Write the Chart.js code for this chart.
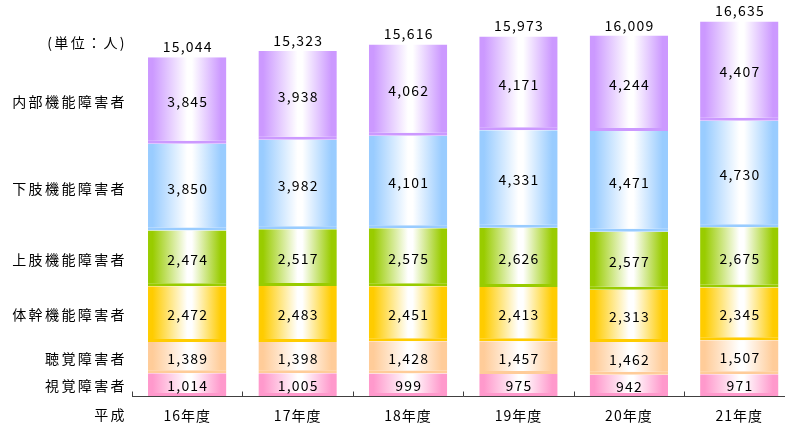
<!DOCTYPE html>
<html>
<head>
<meta charset="utf-8">
<script src="https://cdn.jsdelivr.net/npm/chart.js@4/dist/chart.umd.min.js"></script>
<style>
  html, body { margin: 0; padding: 0; background: #fff; overflow: hidden; }
  #chart { display: block; }
</style>
</head>
<body>
<canvas id="chart" width="796" height="429"></canvas>
<script>
// Fiscal years (Heisei era)
const categories = ['16年度', '17年度', '18年度', '19年度', '20年度', '21年度'];

// Series, bottom to top of each stack
const seriesNames = ['視覚障害者', '聴覚障害者', '体幹機能障害者', '上肢機能障害者', '下肢機能障害者', '内部機能障害者'];
const visual    = [1014, 1005,  999,  975,  942,  971];
const hearing   = [1389, 1398, 1428, 1457, 1462, 1507];
const trunk     = [2472, 2483, 2451, 2413, 2313, 2345];
const upperLimb = [2474, 2517, 2575, 2626, 2577, 2675];
const lowerLimb = [3850, 3982, 4101, 4331, 4471, 4730];
const internal  = [3845, 3938, 4062, 4171, 4244, 4407];

const seriesValues = [visual, hearing, trunk, upperLimb, lowerLimb, internal];
const seriesColors = ['#ff99cc', '#ffcc99', '#ffcc00', '#99cc00', '#99ccff', '#cc99ff'];

const unitLabel = '(単位：人)';
const eraLabel = '平成';

const FONT = '"Noto Sans CJK JP", "Noto Sans", sans-serif';
const BAR_PCT = 0.71;

const fmt = v => v.toLocaleString('en-US');

// Horizontal "cylinder" shading across each bar
function barFill(color) {
  return (ctx) => {
    const chart = ctx.chart;
    const xs = chart.scales.x;
    if (!chart.chartArea || !xs || ctx.type !== 'data') return color;
    const cx = xs.getPixelForValue(ctx.dataIndex);
    const half = (xs.width / categories.length) * BAR_PCT / 2;
    const g = chart.ctx.createLinearGradient(cx - half, 0, cx + half, 0);
    g.addColorStop(0, color);
    g.addColorStop(0.06, color);
    g.addColorStop(0.5, '#ffffff');
    g.addColorStop(0.56, '#ffffff');
    g.addColorStop(0.93, color);
    g.addColorStop(1, color);
    return g;
  };
}

const datasets = seriesNames.map((name, i) => ({
  label: name,
  data: seriesValues[i],
  backgroundColor: barFill(seriesColors[i]),
  borderColor: seriesColors[i],
  borderWidth: { top: 0, left: 0, right: 0, bottom: 3 },
  borderSkipped: false,
  categoryPercentage: 1,
  barPercentage: BAR_PCT
}));

// Slight letter spacing for all canvas text, including the category ticks
const spacing = {
  id: 'spacing',
  beforeDraw(chart) { chart.ctx.letterSpacing = '1px'; }
};

// Value labels, totals, series names and the baseline with inward ticks
const annotate = {
  id: 'annotate',
  afterDatasetsDraw(chart) {
    const ctx = chart.ctx;
    const area = chart.chartArea;
    const xs = chart.scales.x;
    ctx.save();
    ctx.fillStyle = '#000';
    ctx.textAlign = 'center';
    ctx.textBaseline = 'middle';
    ctx.font = '14px ' + FONT;
    ctx.letterSpacing = '1.2px';

    // values inside each segment
    chart.data.datasets.forEach((ds, di) => {
      const meta = chart.getDatasetMeta(di);
      meta.data.forEach((bar, i) => {
        const y = (bar.y + bar.base) / 2;
        ctx.fillText(fmt(ds.data[i]), bar.x + 0.6, y + 1);
      });
    });

    // totals above each stack
    const topMeta = chart.getDatasetMeta(chart.data.datasets.length - 1);
    ctx.textBaseline = 'alphabetic';
    categories.forEach((c, i) => {
      const total = seriesValues.reduce((s, arr) => s + arr[i], 0);
      const bar = topMeta.data[i];
      ctx.fillText(fmt(total), bar.x + 0.6, bar.y - 5);
    });

    // series names beside the first stack
    ctx.textAlign = 'right';
    ctx.textBaseline = 'middle';
    ctx.letterSpacing = '2.4px';
    const firstX = 127;
    chart.data.datasets.forEach((ds, di) => {
      const bar = chart.getDatasetMeta(di).data[0];
      ctx.fillText(ds.label, firstX, (bar.y + bar.base) / 2 + 1);
    });
    ctx.fillText(unitLabel, firstX, 43);
    ctx.fillText(eraLabel, firstX, 415);

    // category axis
    ctx.strokeStyle = '#404040';
    ctx.lineWidth = 1;
    ctx.beginPath();
    const yb = Math.round(area.bottom) + 0.5;
    ctx.moveTo(area.left, yb);
    ctx.lineTo(area.right, yb);
    const cw = xs.width / categories.length;
    for (let i = 0; i <= categories.length; i++) {
      const x = Math.round(xs.left + i * cw) + 0.5;
      ctx.moveTo(x, yb);
      ctx.lineTo(x, yb - 5);
    }
    ctx.stroke();
    ctx.restore();
  }
};

new Chart(document.getElementById('chart'), {
  type: 'bar',
  data: { labels: categories, datasets },
  plugins: [spacing, annotate],
  options: {
    responsive: false,
    animation: false,
    events: [],
    layout: { padding: { left: 132, right: 1.5, top: 2, bottom: 0 } },
    plugins: { legend: { display: false }, tooltip: { enabled: false } },
    scales: {
      x: {
        stacked: true,
        grid: { display: false, drawTicks: false },
        border: { display: false },
        ticks: {
          color: '#000',
          padding: 11,
          font: { family: FONT, size: 14 }
        },
        afterFit(scale) { scale.height = 33; }
      },
      y: {
        stacked: true,
        display: false,
        min: 0,
        max: 17500
      }
    }
  }
});
</script>
</body>
</html>
